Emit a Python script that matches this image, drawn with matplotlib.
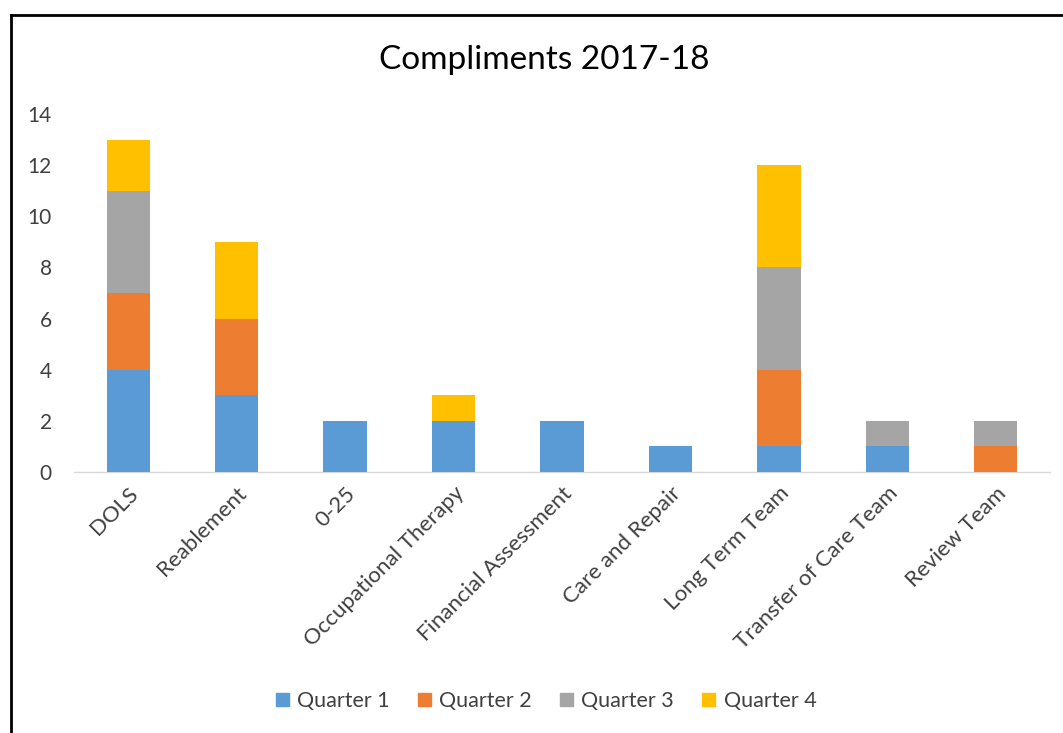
import matplotlib
matplotlib.use("Agg")
import matplotlib.pyplot as plt
import numpy as np
from matplotlib.patches import Rectangle
from matplotlib.lines import Line2D

categories = ["DOLS", "Reablement", "0-25", "Occupational Therapy", "Financial Assessment",
              "Care and Repair", "Long Term Team", "Transfer of Care Team", "Review Team"]
q1 = [4, 3, 2, 2, 2, 1, 1, 1, 0]
q2 = [3, 3, 0, 0, 0, 0, 3, 0, 1]
q3 = [4, 0, 0, 0, 0, 0, 4, 1, 1]
q4 = [2, 3, 0, 1, 0, 0, 4, 0, 0]
series_names = ["Quarter 1", "Quarter 2", "Quarter 3", "Quarter 4"]
colors = ["#5B9BD5", "#ED7D31", "#A5A5A5", "#FFC000"]
yticks = [0, 2, 4, 6, 8, 10, 12, 14]

plt.rcParams['font.family'] = ['Lato', 'DejaVu Sans']

W, H = 1063, 733
fig = plt.figure(figsize=(W / 100, H / 100), dpi=100)
ax = fig.add_axes([74 / W, 1 - 472 / H, (1050 - 74) / W, (472 - 114) / H])

x = np.arange(len(categories))
bottom = np.zeros(len(categories))
for vals, name, c in zip([q1, q2, q3, q4], series_names, colors):
    v = np.array(vals, dtype=float)
    ax.bar(x, v, width=0.4, bottom=bottom, color=c, label=name, zorder=3)
    bottom += v

ax.set_xlim(-0.5, len(categories) - 0.5)
ax.set_ylim(0, 14)
ax.set_yticks(yticks)
ax.set_xticks(x)
ax.set_xticklabels(categories, rotation=45, ha='right', rotation_mode='anchor')
ax.tick_params(axis='y', length=0, labelsize=15, labelcolor='#404040', pad=16)
ax.tick_params(axis='x', length=0, labelsize=16, labelcolor='#404040', pad=8)
for s in ['left', 'right', 'top']:
    ax.spines[s].set_visible(False)
ax.spines['bottom'].set_color('#D9D9D9')
ax.spines['bottom'].set_linewidth(1)

fig.text(544 / W, 1 - 60 / H, "Compliments 2017-18", ha='center', va='center',
         fontsize=24, color='#000000')

handles = [Rectangle((0, 0), 1, 1, color=c) for c in colors]
fig.legend(handles, series_names, loc='center', bbox_to_anchor=(546 / W, 1 - 701 / H),
           ncol=4, frameon=False, fontsize=15.5, handlelength=0.6, handleheight=0.6,
           handletextpad=0.4, columnspacing=1.3, labelcolor='#404040')

# figure frame (left and top edges visible)
fig.add_artist(Line2D([11 / W, 11 / W], [0, 1 - 15 / H], color='black', lw=2, transform=fig.transFigure))
fig.add_artist(Line2D([11 / W, 1], [1 - 15 / H, 1 - 15 / H], color='black', lw=2, transform=fig.transFigure))

fig.savefig("out.png", dpi=100, facecolor='white')
